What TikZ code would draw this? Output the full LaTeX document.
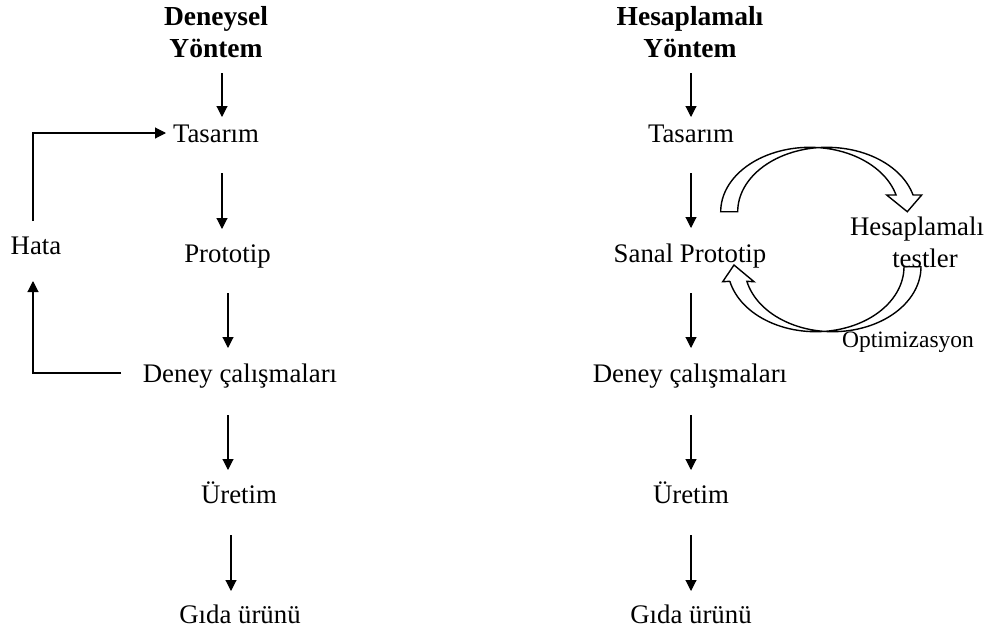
\documentclass[tikz,border=0pt]{standalone}
\usepackage{fontspec}
\setmainfont{Liberation Serif}
\usetikzlibrary{arrows.meta}
\begin{document}
\begin{tikzpicture}[x=1pt,y=-1pt,
  lbl/.style={anchor=base,inner sep=0pt,font=\fontsize{26.8}{30}\selectfont},
  headlbl/.style={anchor=base,inner sep=0pt,font=\fontsize{27.5}{31}\selectfont\bfseries},
  smalllbl/.style={anchor=base,inner sep=0pt,font=\fontsize{23.5}{27}\selectfont},
  arr/.style={line width=1.1pt,-{Triangle[length=11pt,width=11pt]}},
  plainline/.style={line width=1.1pt},
  blockarrow/.style={line width=1.4pt,line join=miter}]
\useasboundingbox (0,0) rectangle (997,635);

% ---- left column: Deneysel Yontem
\node[headlbl] (dh1) at (216,25) {Deneysel};
\node[headlbl] (dh2) at (216,57) {Yöntem};
\node[lbl] (dt) at (216,142) {Tasarım};
\node[lbl] (dp) at (227.5,262) {Prototip};
\node[lbl] (dd) at (240,382) {Deney çalışmaları};
\node[lbl] (du) at (239,503) {Üretim};
\node[lbl] (dg) at (240,623) {Gıda ürünü};
\node[lbl] (hata) at (36,254) {Hata};

\draw[arr] ([xshift=6pt,yshift=-16pt]dh2.base) -- ([xshift=6pt,yshift=25pt]dt.base);
\draw[arr] ([xshift=6pt,yshift=-31pt]dt.base) -- ([xshift=-5.5pt,yshift=33pt]dp.base);
\draw[arr] ([xshift=0.5pt,yshift=-31pt]dp.base) -- ([xshift=-12pt,yshift=34pt]dd.base);
\draw[arr] ([xshift=-12pt,yshift=-33pt]dd.base) -- ([xshift=-11pt,yshift=33pt]du.base);
\draw[arr] ([xshift=-8pt,yshift=-32pt]du.base) -- ([xshift=-9pt,yshift=32pt]dg.base);

\draw[arr] ([xshift=-3pt,yshift=33pt]hata.base) |- ([xshift=-50pt,yshift=9pt]dt.base);
\draw[arr] ([xshift=-119pt,yshift=9pt]dd.base) -| ([xshift=-3pt,yshift=-27pt]hata.base);

% ---- right column: Hesaplamali Yontem
\node[headlbl] (hh1) at (690,25) {Hesaplamalı};
\node[headlbl] (hh2) at (690,57) {Yöntem};
\node[lbl] (ht) at (691,142) {Tasarım};
\node[lbl] (hs) at (690,262) {Sanal Prototip};
\node[lbl] (hd) at (690,382) {Deney çalışmaları};
\node[lbl] (hu) at (691,503) {Üretim};
\node[lbl] (hg) at (691,623) {Gıda ürünü};
\node[lbl] (ht1) at (917,235) {Hesaplamalı};
\node[lbl] (ht2) at (925,267) {testler};
\node[smalllbl] (opt) at (908,347) {Optimizasyon};

\draw[arr] ([xshift=1pt,yshift=-16pt]hh2.base) -- ([yshift=25pt]ht.base);
\draw[arr] ([yshift=-31pt]ht.base) -- ([xshift=1pt,yshift=34pt]hs.base);
\draw[arr] ([xshift=1pt,yshift=-31pt]hs.base) -- ([xshift=1pt,yshift=34pt]hd.base);
\draw[arr] ([xshift=1pt,yshift=-33pt]hd.base) -- ([yshift=33pt]hu.base);
\draw[arr] ([yshift=-32pt]hu.base) -- ([yshift=32pt]hg.base);

% ---- curved block arrows
\draw[blockarrow] (720.7,211.7)
  -- plot[domain=180:15,samples=60] ({809.9+89.2*cos(\x)},{211.7-64.4*sin(\x)})
  -- (886.7,195) -- (907.3,211.7) -- (921.7,195)
  -- plot[domain=15:180,samples=60] ({826.9+89.2*cos(\x)},{211.7-64.4*sin(\x)})
  -- cycle;

\draw[blockarrow] (730,281.3)
  -- plot[domain=193:360,samples=60] ({815.8+88.2*cos(\x)},{266.7-65*sin(\x)})
  -- plot[domain=360:193,samples=60] ({832.8+88.2*cos(\x)},{266.7-65*sin(\x)})
  -- (754,281.7) -- (734,265) -- (722.7,281.7)
  -- cycle;
\end{tikzpicture}
\end{document}
